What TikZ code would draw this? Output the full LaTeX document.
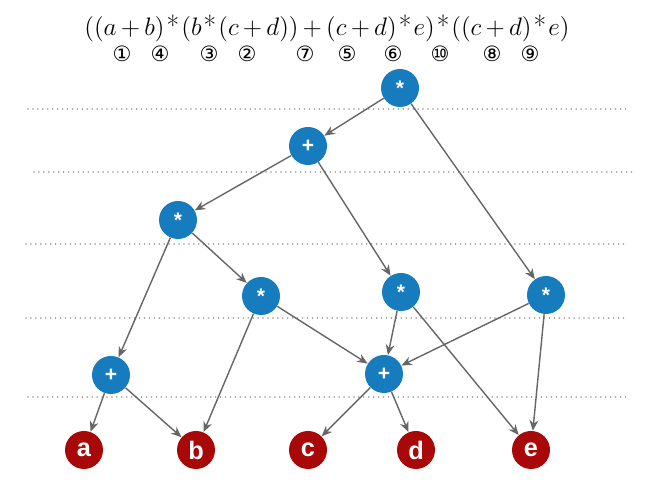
\documentclass[tikz,border=0pt]{standalone}
\usepackage{fontspec}
\setsansfont{Liberation Sans}
\newfontfamily\circfont{DejaVu Sans}
\usepackage{xcolor}
\usetikzlibrary{arrows.meta}
\definecolor{opblue}{RGB}{22,124,190}
\definecolor{leafred}{RGB}{168,8,8}
\newcommand{\tms}{\mkern1.5mu\mbox{*}\mkern1.5mu}
\tikzset{
  op/.style={
    circle,
    fill=opblue,
    minimum size=0.76cm,
    inner sep=0pt,
    text=white,
    font=\sffamily\bfseries\large
  },
  leaf/.style={
    circle,
    fill=leafred,
    minimum size=0.76cm,
    inner sep=0pt,
    text=white,
    font=\sffamily\bfseries\Large
  },
  level/.style={gray!80, line width=0.9pt, dash pattern=on 0.01pt off 2.8pt, line cap=round},
  num/.style={font=\circfont\fontsize{12}{14}\selectfont, inner sep=0pt},
  flow/.style={-{Stealth[length=6pt,width=5pt]}, line width=0.8pt, draw=black!60}
}
\begin{document}
\begin{tikzpicture}
  \useasboundingbox (0,0) rectangle (12.92,9.74);

  % expression and evaluation order
  \node[font=\fontsize{15.6}{18}\selectfont] (expr) at (6.54,9.18)
    {$\medmuskip=3mu((a+b)\tms(b\tms(c+d))+(c+d)\tms e)\tms((c+d)\tms e)$};
  \node[num] (n1) at (2.44,8.66) {①};
  \node[num] (n4) at (3.20,8.66) {④};
  \node[num] (n3) at (4.18,8.66) {③};
  \node[num] (n2) at (4.94,8.66) {②};
  \node[num] (n7) at (6.10,8.66) {⑦};
  \node[num] (n5) at (6.94,8.66) {⑤};
  \node[num] (n6) at (7.86,8.66) {⑥};
  \node[num] (n10) at (8.80,8.66) {⑩};
  \node[num] (n8) at (9.84,8.66) {⑧};
  \node[num] (n9) at (10.60,8.66) {⑨};

  % level separators
  \draw[level] (0.56,7.56) -- (12.60,7.56);
  \draw[level] (0.68,6.30) -- (12.70,6.30);
  \draw[level] (0.52,4.86) -- (12.56,4.86);
  \draw[level] (0.52,3.38) -- (12.56,3.38);
  \draw[level] (0.56,1.80) -- (12.60,1.80);

  % operators
  \node[op] (root) at (8.00,7.98) {*};
  \node[op] (plus1) at (6.16,6.82) {+};
  \node[op] (mul1) at (3.56,5.34) {*};
  \node[op] (mul2) at (5.22,3.82) {*};
  \node[op] (mul3) at (8.02,3.90) {*};
  \node[op] (mul4) at (10.92,3.84) {*};
  \node[op] (plus2) at (2.22,2.24) {+};
  \node[op] (plus3) at (7.68,2.26) {+};

  % operands
  \node[leaf] (a) at (1.68,0.74) {a};
  \node[leaf] (b) at (3.92,0.74) {b};
  \node[leaf] (c) at (6.16,0.74) {c};
  \node[leaf] (d) at (8.32,0.74) {d};
  \node[leaf] (e) at (10.62,0.74) {e};

  \draw[flow] (root) -- (plus1);
  \draw[flow] (root) -- (mul4);
  \draw[flow] (plus1) -- (mul1);
  \draw[flow] (plus1) -- (mul3);
  \draw[flow] (mul1) -- (plus2);
  \draw[flow] (mul1) -- (mul2);
  \draw[flow] (mul2) -- (b);
  \draw[flow] (mul2) -- (plus3);
  \draw[flow] (mul3) -- (plus3);
  \draw[flow] (mul3) -- (e);
  \draw[flow] (mul4) -- (plus3);
  \draw[flow] (mul4) -- (e);
  \draw[flow] (plus2) -- (a);
  \draw[flow] (plus2) -- (b);
  \draw[flow] (plus3) -- (c);
  \draw[flow] (plus3) -- (d);
\end{tikzpicture}
\end{document}
